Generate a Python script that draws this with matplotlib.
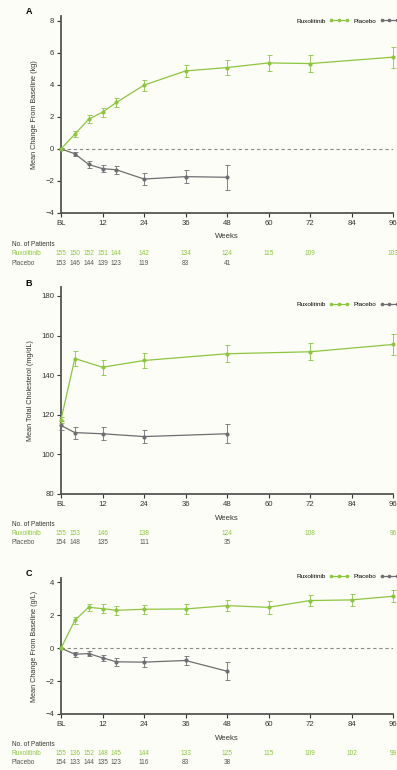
import matplotlib
matplotlib.use('Agg')
import matplotlib.pyplot as plt
import matplotlib.transforms as mtransforms
from matplotlib.lines import Line2D

plt.rcParams['font.family'] = ['Liberation Sans', 'DejaVu Sans']

GREEN = '#8cc63f'
GREY = '#6d6e71'
BG = '#fdfdf7'

# Panel A: body weight change (kg)
a_rux_weeks = [0, 4, 8, 12, 16, 24, 36, 48, 60, 72, 96]
a_rux_mean = [0, 0.92, 1.85, 2.3, 2.9, 3.98, 4.87, 5.08, 5.37, 5.33, 5.73]
a_rux_err = [0.05, 0.2, 0.25, 0.28, 0.3, 0.35, 0.4, 0.45, 0.5, 0.52, 0.65]
a_pbo_weeks = [0, 4, 8, 12, 16, 24, 36, 48]
a_pbo_mean = [0, -0.3, -0.97, -1.23, -1.3, -1.88, -1.73, -1.77]
a_pbo_err = [0.05, 0.12, 0.22, 0.2, 0.25, 0.37, 0.4, 0.78]
a_rux_n = [155, 150, 152, 151, 144, 142, 134, 124, 115, 109, 103]
a_pbo_n = [153, 146, 144, 139, 123, 119, 83, 41]

# Panel B: total cholesterol (mg/dL)
b_rux_weeks = [0, 4, 12, 24, 48, 72, 96]
b_rux_mean = [117.5, 148.4, 144.0, 147.4, 150.8, 151.8, 155.5]
b_rux_err = [1.5, 3.7, 3.7, 4.0, 4.4, 4.3, 5.4]
b_pbo_weeks = [0, 4, 12, 24, 48]
b_pbo_mean = [114.6, 111.0, 110.4, 109.0, 110.4]
b_pbo_err = [2.5, 3.0, 3.2, 3.3, 4.7]
b_rux_n = [155, 153, 146, 138, 124, 108, 96]
b_pbo_n = [154, 148, 135, 111, 35]

# Panel C: albumin change (g/L)
c_rux_weeks = [0, 4, 8, 12, 16, 24, 36, 48, 60, 72, 84, 96]
c_rux_mean = [0, 1.69, 2.48, 2.40, 2.30, 2.36, 2.38, 2.58, 2.48, 2.89, 2.93, 3.15]
c_rux_err = [0.03, 0.2, 0.22, 0.28, 0.28, 0.28, 0.28, 0.33, 0.39, 0.33, 0.37, 0.37]
c_pbo_weeks = [0, 4, 8, 12, 16, 24, 36, 48]
c_pbo_mean = [0, -0.37, -0.33, -0.59, -0.83, -0.85, -0.75, -1.40]
c_pbo_err = [0.03, 0.15, 0.15, 0.2, 0.25, 0.3, 0.3, 0.53]
c_rux_n = [155, 136, 152, 148, 145, 144, 133, 125, 115, 109, 102, 99]
c_pbo_n = [154, 133, 144, 135, 123, 116, 83, 38]

xticks = [0, 12, 24, 36, 48, 60, 72, 84, 96]
xticklabels = ['BL', '12', '24', '36', '48', '60', '72', '84', '96']

W, H = 397, 770
fig = plt.figure(figsize=(W / 100, H / 100), dpi=100, facecolor=BG)


def fy(px):
    return 1 - px / H


def draw_panel(letter, top_px, bot_px, ylim, yticks, ylabel, rux, pbo, rux_n, pbo_n,
               zero_line, legend_y_px, rows_px):
    left, right = 61 / W, 393 / W
    ax = fig.add_axes([left, fy(bot_px), right - left, (bot_px - top_px) / H])
    ax.patch.set_alpha(0)
    ax.set_xlim(0, 96)
    ax.set_ylim(*ylim)
    if zero_line:
        ax.axhline(0, color='#8a8a8a', lw=0.8, ls=(0, (3, 2.5)), zorder=1)
    for (wk, m, e), col in [(pbo, GREY), (rux, GREEN)]:
        ax.errorbar(wk, m, yerr=e, color=col, lw=0.9, marker='o', ms=2.0,
                    elinewidth=0.6, capsize=1.8, capthick=0.6, zorder=3, clip_on=False)
    for s in ['top', 'right']:
        ax.spines[s].set_visible(False)
    for s in ['left', 'bottom']:
        ax.spines[s].set_color('#555555')
        ax.spines[s].set_linewidth(1.3)
    ax.set_xticks(xticks)
    ax.set_xticklabels(xticklabels)
    ax.set_yticks(yticks)
    ax.tick_params(labelsize=5.6, colors='#333333', length=3, width=0.8, pad=2)
    ax.set_ylabel(ylabel, fontsize=5.2, color='#333333', labelpad=5)
    fig.text(29 / W, fy(top_px - 4), letter, fontsize=6.5,
             fontweight='bold', ha='center', va='center')
    fig.text(227 / W, fy(bot_px + 24), 'Weeks', fontsize=5.6, ha='center', va='center',
             color='#333333')
    handles = [Line2D([], [], color=GREEN, lw=0.9, marker='o', ms=1.6),
               Line2D([], [], color=GREY, lw=0.9, marker='o', ms=1.6)]
    ax.legend(handles, ['Ruxolitinib', 'Placebo'], ncol=2, loc='center right',
              bbox_to_anchor=(1.035, (fy(legend_y_px) - fy(bot_px)) / ((bot_px - top_px) / H)),
              frameon=False, fontsize=4.6, markerfirst=False, numpoints=3,
              handlelength=3.0, handletextpad=0.5, columnspacing=0.8)
    # patient numbers under each panel
    tr = mtransforms.blended_transform_factory(ax.transData, fig.transFigure)
    y0, y1, y2 = rows_px
    fig.text(12 / W, fy(y0), 'No. of Patients', fontsize=4.7, va='center', color='#333333')
    fig.text(12 / W, fy(y1), 'Ruxolitinib', fontsize=4.7, va='center', color=GREEN)
    fig.text(12 / W, fy(y2), 'Placebo', fontsize=4.7, va='center', color='#555555')
    for wk, n in zip(rux[0], rux_n):
        ax.text(wk, fy(y1), str(n), transform=tr, fontsize=4.7, ha='center', va='center',
                color=GREEN, clip_on=False)
    for wk, n in zip(pbo[0], pbo_n):
        ax.text(wk, fy(y2), str(n), transform=tr, fontsize=4.7, ha='center', va='center',
                color='#555555', clip_on=False)
    return ax


draw_panel('A', 16, 213, (-4, 8.3), [-4, -2, 0, 2, 4, 6, 8],
           'Mean Change From Baseline (kg)',
           (a_rux_weeks, a_rux_mean, a_rux_err), (a_pbo_weeks, a_pbo_mean, a_pbo_err),
           a_rux_n, a_pbo_n, True, 21, (244, 253.5, 263))

draw_panel('B', 287, 494, (80, 184.5), [80, 100, 120, 140, 160, 180],
           'Mean Total Cholesterol (mg/dL)',
           (b_rux_weeks, b_rux_mean, b_rux_err), (b_pbo_weeks, b_pbo_mean, b_pbo_err),
           b_rux_n, b_pbo_n, False, 304, (524, 533.5, 543))

draw_panel('C', 578, 714, (-4, 4.26), [-4, -2, 0, 2, 4],
           'Mean Change From Baseline (g/L)',
           (c_rux_weeks, c_rux_mean, c_rux_err), (c_pbo_weeks, c_pbo_mean, c_pbo_err),
           c_rux_n, c_pbo_n, True, 576, (744, 753.5, 763))

fig.savefig('out.png', dpi=100, facecolor=BG)
